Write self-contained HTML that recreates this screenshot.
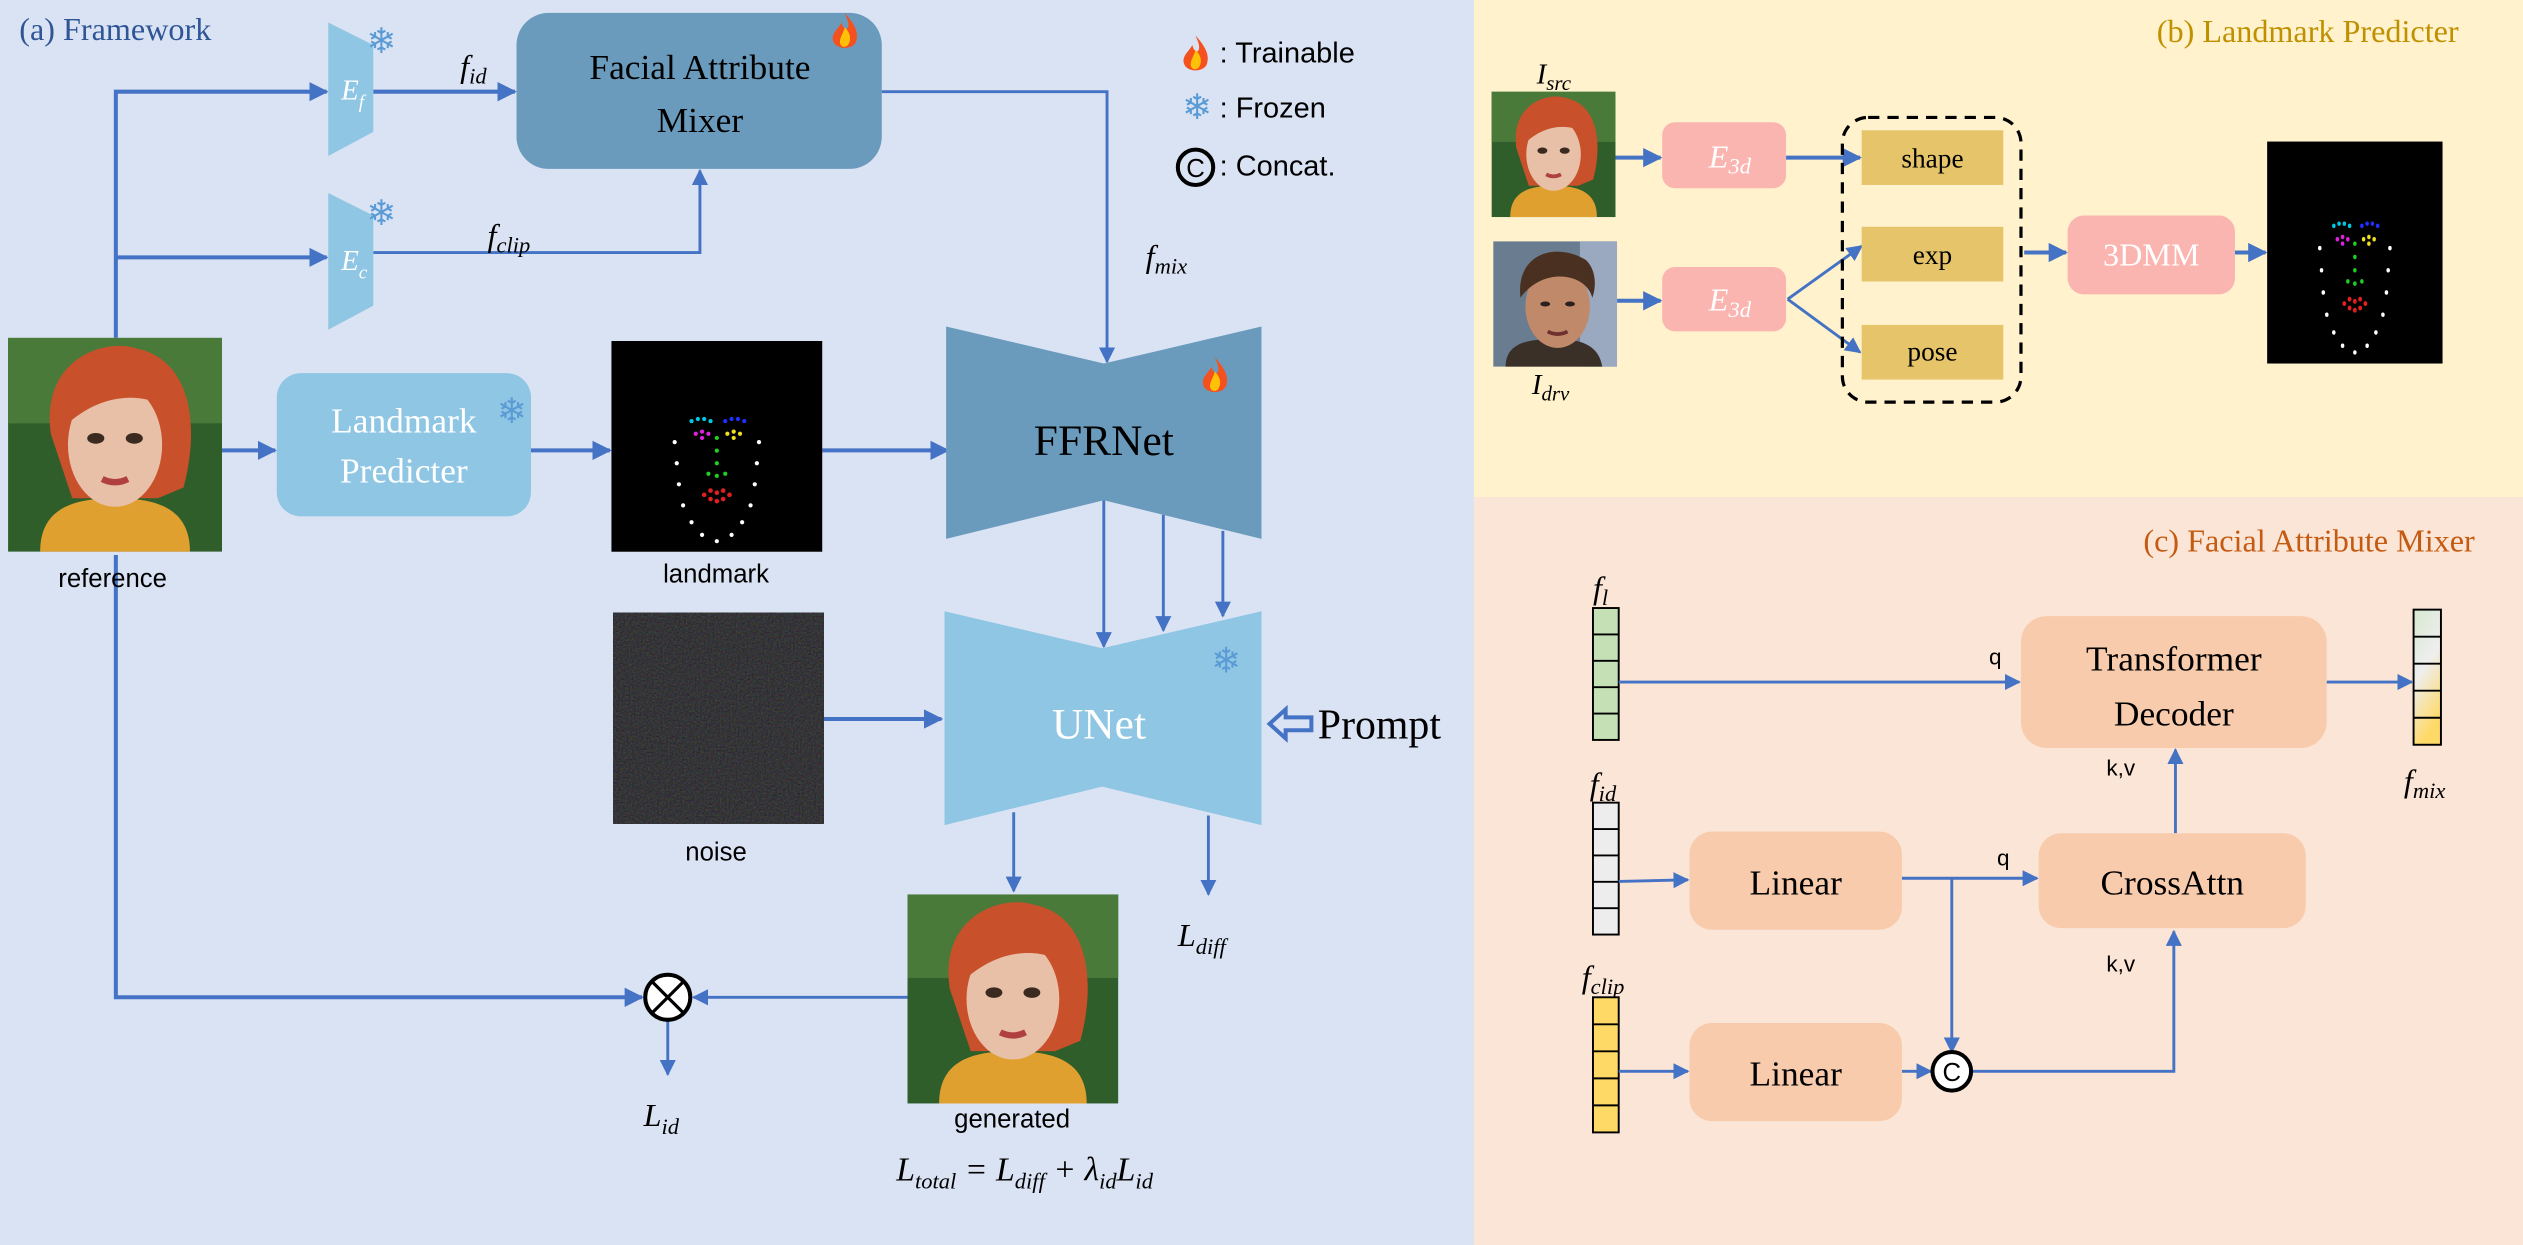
<!DOCTYPE html>
<html><head><meta charset="utf-8"><style>
html,body{margin:0;padding:0;background:#dae3f3;}
svg{display:block}
.sf{font-family:"Liberation Serif","DejaVu Serif",serif}
.ss{font-family:"Liberation Sans","DejaVu Sans",sans-serif}
.it{font-style:italic}
</style></head><body>
<svg width="2523" height="1245" viewBox="0 0 1568 774" preserveAspectRatio="none" xmlns="http://www.w3.org/2000/svg">
<defs>
<marker id="a" viewBox="0 0 10 10" refX="9" refY="5" markerWidth="10" markerHeight="10" markerUnits="userSpaceOnUse" orient="auto"><path d="M0,0L10,5L0,10z" fill="#4472c4"/></marker>
<marker id="b" viewBox="0 0 10 10" refX="9" refY="5" markerWidth="12" markerHeight="12" markerUnits="userSpaceOnUse" orient="auto"><path d="M0,0L10,5L0,10z" fill="#4472c4"/></marker>
<g id="flame"><path d="M0,-12 C6,-5 9,0 7,6 C5,11 -5,11 -7,6 C-9,1 -4,-2 -2,-6 C-1,-2 1,-1 2,-3 C3,-6 1,-9 0,-12z" fill="#f4511e"/><path d="M0,-3 C4,1 4,5 2,8 C0,10 -3,9 -3,6 C-3,3 -1,1 0,-3z" fill="#ffc107"/></g>
<g id="face">
<rect x="0" y="0" width="100" height="100" fill="#2f5e2a"/>
<rect x="0" y="0" width="100" height="40" fill="#4a7a3a"/>
<path d="M15,100 C15,80 30,75 50,75 C70,75 85,80 85,100z" fill="#e0a030"/>
<path d="M20,45 C15,10 45,0 60,5 C85,10 90,40 82,70 L70,75 L30,75z" fill="#c8502a"/>
<ellipse cx="50" cy="50" rx="22" ry="29" fill="#e8c0a8"/>
<path d="M28,40 C30,15 60,10 78,35 C65,25 45,25 28,40z" fill="#c8502a"/>
<ellipse cx="41" cy="47" rx="4" ry="2.5" fill="#3a2a20"/><ellipse cx="59" cy="47" rx="4" ry="2.5" fill="#3a2a20"/>
<path d="M44,66 Q50,69 56,66" stroke="#b04040" stroke-width="3" fill="none"/>
</g>
<g id="lm">
<g fill="#fff"><circle cx="30" cy="48" r="1"/><circle cx="31" cy="58" r="1"/><circle cx="32" cy="68" r="1"/><circle cx="34" cy="78" r="1"/><circle cx="38" cy="86" r="1"/><circle cx="43" cy="92" r="1"/><circle cx="50" cy="95" r="1"/><circle cx="57" cy="92" r="1"/><circle cx="62" cy="86" r="1"/><circle cx="66" cy="78" r="1"/><circle cx="68" cy="68" r="1"/><circle cx="69" cy="58" r="1"/><circle cx="70" cy="48" r="1"/></g>
<g fill="#00c8e0"><circle cx="38" cy="38" r="1"/><circle cx="41" cy="37" r="1"/><circle cx="44" cy="37" r="1"/><circle cx="47" cy="38" r="1"/></g>
<g fill="#2030ff"><circle cx="54" cy="38" r="1"/><circle cx="57" cy="37" r="1"/><circle cx="60" cy="37" r="1"/><circle cx="63" cy="38" r="1"/></g>
<g fill="#e020e0"><circle cx="40" cy="44" r="1"/><circle cx="43" cy="43" r="1"/><circle cx="46" cy="44" r="1"/><circle cx="43" cy="46" r="1"/></g>
<g fill="#f0e020"><circle cx="55" cy="44" r="1"/><circle cx="58" cy="43" r="1"/><circle cx="61" cy="44" r="1"/><circle cx="58" cy="46" r="1"/></g>
<g fill="#20d020"><circle cx="50" cy="46" r="1"/><circle cx="50" cy="52" r="1"/><circle cx="50" cy="58" r="1"/><circle cx="46" cy="63" r="1"/><circle cx="50" cy="64" r="1"/><circle cx="54" cy="63" r="1"/></g>
<g fill="#e02020"><circle cx="44" cy="73" r="1.1"/><circle cx="47" cy="71" r="1.1"/><circle cx="50" cy="72" r="1.1"/><circle cx="53" cy="71" r="1.1"/><circle cx="56" cy="73" r="1.1"/><circle cx="50" cy="76" r="1.1"/><circle cx="47" cy="75" r="1.1"/><circle cx="53" cy="75" r="1.1"/></g>
</g>
<filter id="nz" x="0" y="0" width="1" height="1" filterUnits="objectBoundingBox" color-interpolation-filters="sRGB"><feTurbulence type="fractalNoise" baseFrequency="0.9" numOctaves="2" seed="3"/><feColorMatrix values="0.25 0 0 0 0.08  0 0.25 0 0 0.08  0 0 0.25 0 0.09  0 0 0 0 1"/></filter>
</defs>

<rect x="0" y="0" width="916" height="774" fill="#dae3f3"/>
<rect x="916" y="0" width="652" height="309" fill="#fff2cc"/>
<rect x="916" y="309" width="652" height="465" fill="#fbe5d6"/>

<text x="12" y="25" class="sf" font-size="20" fill="#2f5597">(a) Framework</text>
<g stroke="#4472c4" stroke-width="2.5" fill="none">
<polyline points="72,210 72,57 203,57" marker-end="url(#b)"/>
<polyline points="72,160 203,160" marker-end="url(#b)"/>
<polyline points="232,57 320,57" marker-end="url(#b)"/>
<polyline points="138,280 171,280" marker-end="url(#b)"/>
<polyline points="330,280 379,280" marker-end="url(#b)"/>
<polyline points="511,280 589,280" marker-end="url(#b)"/>
<polyline points="512,447 585,447" marker-end="url(#b)"/>
<polyline points="72,345 72,620 399,620" marker-end="url(#b)"/>
</g>
<g stroke="#4472c4" stroke-width="1.8" fill="none">
<polyline points="232,157 435,157 435,106" marker-end="url(#a)"/>
<polyline points="548,57 688,57 688,225" marker-end="url(#a)"/>
<polyline points="686,311 686,402" marker-end="url(#a)"/>
<polyline points="723,320 723,392" marker-end="url(#a)"/>
<polyline points="760,330 760,383" marker-end="url(#a)"/>
<polyline points="630,505 630,554" marker-end="url(#a)"/>
<polyline points="751,507 751,556" marker-end="url(#a)"/>
<polyline points="564,620 431,620" marker-end="url(#a)"/>
<polyline points="415,635 415,668" marker-end="url(#a)"/>
</g>
<polygon points="204,14 232,28 232,82 204,97" fill="#8fc6e4"/>
<polygon points="204,120 232,134 232,190 204,205" fill="#8fc6e4"/>
<text x="212" y="62" class="sf it" font-size="18" fill="#fff">E<tspan font-size="12" dy="5">f</tspan></text>
<text x="212" y="168" class="sf it" font-size="18" fill="#fff">E<tspan font-size="12" dy="5">c</tspan></text>
<text x="237" y="33" font-size="22" fill="#5b9bd5" text-anchor="middle" class="ss">❄</text>
<text x="237" y="140" font-size="22" fill="#5b9bd5" text-anchor="middle" class="ss">❄</text>
<text x="286" y="48" class="sf it" font-size="20" fill="#000">f<tspan font-size="14" dy="4">id</tspan></text>
<text x="303" y="153" class="sf it" font-size="20" fill="#000">f<tspan font-size="14" dy="4">clip</tspan></text>
<text x="712" y="166" class="sf it" font-size="20" fill="#000">f<tspan font-size="14" dy="4">mix</tspan></text>
<rect x="321" y="8" width="227" height="97" rx="20" fill="#6a9bbd"/>
<text x="435" y="49" class="sf" font-size="22" text-anchor="middle" fill="#000">Facial Attribute</text>
<text x="435" y="82" class="sf" font-size="22" text-anchor="middle" fill="#000">Mixer</text>
<use href="#flame" x="525" y="20"/>
<use href="#flame" x="743" y="34"/>
<text x="758" y="39" class="ss" font-size="18" fill="#000">: Trainable</text>
<text x="744" y="74" font-size="22" fill="#5b9bd5" text-anchor="middle" class="ss">❄</text>
<text x="758" y="73" class="ss" font-size="18" fill="#000">: Frozen</text>
<circle cx="743" cy="104" r="11" fill="none" stroke="#000" stroke-width="2.5"/>
<text x="743" y="110" class="ss" font-size="16" text-anchor="middle" fill="#000">C</text>
<text x="758" y="109" class="ss" font-size="18" fill="#000">: Concat.</text>
<svg x="5" y="210" width="133" height="133" viewBox="0 0 100 100" preserveAspectRatio="none"><use href="#face"/></svg>
<text x="70" y="365" class="ss" font-size="16" text-anchor="middle" fill="#000">reference</text>
<rect x="172" y="232" width="158" height="89" rx="15" fill="#8fc6e4"/>
<text x="251" y="269" class="sf" font-size="22" text-anchor="middle" fill="#fff">Landmark</text>
<text x="251" y="300" class="sf" font-size="22" text-anchor="middle" fill="#fff">Predicter</text>
<text x="318" y="263" font-size="22" fill="#5b9bd5" text-anchor="middle" class="ss">❄</text>
<rect x="380" y="212" width="131" height="131" fill="#000"/>
<svg x="380" y="212" width="131" height="131" viewBox="0 0 100 100" preserveAspectRatio="none"><use href="#lm"/></svg>
<text x="445" y="362" class="ss" font-size="16" text-anchor="middle" fill="#000">landmark</text>
<polygon points="588,203 686,226 784,203 784,335 686,311 588,335" fill="#6a9bbd"/>
<text x="686" y="283" class="sf" font-size="27" text-anchor="middle" fill="#000">FFRNet</text>
<use href="#flame" x="755" y="234"/>
<rect x="381" y="381" width="131" height="131" fill="#2e2e33"/>
<rect x="381" y="381" width="131" height="131" filter="url(#nz)"/>
<text x="445" y="535" class="ss" font-size="16" text-anchor="middle" fill="#000">noise</text>
<polygon points="587,380 685,403 784,380 784,513 685,489 587,513" fill="#8fc6e4"/>
<text x="683" y="459" class="sf" font-size="27" text-anchor="middle" fill="#fff">UNet</text>
<text x="762" y="418" font-size="22" fill="#5b9bd5" text-anchor="middle" class="ss">❄</text>
<path d="M789,450 L799,441 L799,446 L815,446 L815,454 L799,454 L799,459z" fill="none" stroke="#4472c4" stroke-width="2.5"/>
<text x="819" y="459" class="sf" font-size="26" fill="#000">Prompt</text>
<svg x="564" y="556" width="131" height="130" viewBox="0 0 100 100" preserveAspectRatio="none"><use href="#face"/></svg>
<text x="629" y="701" class="ss" font-size="16" text-anchor="middle" fill="#000">generated</text>
<text x="732" y="588" class="sf it" font-size="20" fill="#000">L<tspan font-size="14" dy="5">diff</tspan></text>
<circle cx="415" cy="620" r="14" fill="#fff" stroke="#000" stroke-width="2.5"/>
<path d="M405,610 L425,630 M425,610 L405,630" stroke="#000" stroke-width="2"/>
<text x="400" y="700" class="sf it" font-size="20" fill="#000">L<tspan font-size="14" dy="5">id</tspan></text>
<text x="557" y="734" class="sf it" font-size="21" fill="#000">L<tspan font-size="14" dy="5">total</tspan><tspan dy="-5"> = L</tspan><tspan font-size="14" dy="5">diff</tspan><tspan dy="-5"> + λ</tspan><tspan font-size="14" dy="5">id</tspan><tspan dy="-5">L</tspan><tspan font-size="14" dy="5">id</tspan></text>

<text x="1528" y="26" class="sf" font-size="20" text-anchor="end" fill="#bf9000">(b) Landmark Predicter</text>
<text x="955" y="52" class="sf it" font-size="18" fill="#000">I<tspan font-size="13" dy="4">src</tspan></text>
<svg x="927" y="57" width="77" height="78" viewBox="0 0 100 100" preserveAspectRatio="none"><use href="#face"/></svg>
<svg x="928" y="150" width="77" height="78" viewBox="0 0 100 100" preserveAspectRatio="none">
<rect width="100" height="100" fill="#6a7d90"/><rect x="70" width="30" height="100" fill="#9aa8c0"/>
<path d="M10,100 C10,80 30,78 50,78 C70,78 85,82 88,100z" fill="#3a3028"/>
<ellipse cx="52" cy="52" rx="26" ry="33" fill="#c08a6a"/>
<path d="M22,45 C18,10 50,0 75,15 C85,25 82,40 80,45 C75,25 40,20 22,45z" fill="#4a3020"/>
<ellipse cx="42" cy="50" rx="4" ry="2" fill="#2a2020"/><ellipse cx="62" cy="50" rx="4" ry="2" fill="#2a2020"/>
<path d="M44,72 Q52,76 60,72" stroke="#703030" stroke-width="3" fill="none"/></svg>
<text x="952" y="245" class="sf it" font-size="18" fill="#000">I<tspan font-size="13" dy="4">drv</tspan></text>
<g stroke="#4472c4" stroke-width="2.5" fill="none">
<polyline points="1004,98 1032,98" marker-end="url(#b)"/>
<polyline points="1005,187 1032,187" marker-end="url(#b)"/>
<polyline points="1110,98 1156,98" marker-end="url(#b)"/>
<polyline points="1258,157 1284,157" marker-end="url(#b)"/>
<polyline points="1389,157 1408,157" marker-end="url(#b)"/>
</g>
<g stroke="#4472c4" stroke-width="1.8" fill="none">
<polyline points="1111,186 1157,153" marker-end="url(#a)"/>
<polyline points="1111,186 1156,219" marker-end="url(#a)"/>
</g>
<rect x="1033" y="76" width="77" height="41" rx="8" fill="#fbb5b1"/>
<rect x="1033" y="166" width="77" height="40" rx="8" fill="#fbb5b1"/>
<text x="1062" y="104" class="sf it" font-size="20" fill="#fff">E<tspan font-size="14" dy="4">3d</tspan></text>
<text x="1062" y="193" class="sf it" font-size="20" fill="#fff">E<tspan font-size="14" dy="4">3d</tspan></text>
<rect x="1145" y="73" width="111" height="177" rx="16" fill="none" stroke="#000" stroke-width="2" stroke-dasharray="7,5"/>
<rect x="1157" y="81" width="88" height="34" fill="#e6c46a"/>
<rect x="1157" y="141" width="88" height="34" fill="#e6c46a"/>
<rect x="1157" y="202" width="88" height="34" fill="#e6c46a"/>
<text x="1201" y="104" class="sf" font-size="17" text-anchor="middle" fill="#000">shape</text>
<text x="1201" y="164" class="sf" font-size="17" text-anchor="middle" fill="#000">exp</text>
<text x="1201" y="224" class="sf" font-size="17" text-anchor="middle" fill="#000">pose</text>
<rect x="1285" y="134" width="104" height="49" rx="10" fill="#fbb5b1"/>
<text x="1337" y="165" class="sf" font-size="20" text-anchor="middle" fill="#fff">3DMM</text>
<rect x="1409" y="88" width="109" height="138" fill="#000"/>
<svg x="1409" y="88" width="109" height="138" viewBox="0 0 100 100" preserveAspectRatio="none"><use href="#lm"/></svg>

<text x="1538" y="343" class="sf" font-size="20" text-anchor="end" fill="#c55a11">(c) Facial Attribute Mixer</text>
<text x="990" y="372" class="sf it" font-size="20" fill="#000">f<tspan font-size="14" dy="4">l</tspan></text>
<text x="988" y="494" class="sf it" font-size="20" fill="#000">f<tspan font-size="14" dy="4">id</tspan></text>
<text x="983" y="614" class="sf it" font-size="20" fill="#000">f<tspan font-size="14" dy="4">clip</tspan></text>
<text x="1494" y="492" class="sf it" font-size="20" fill="#000">f<tspan font-size="14" dy="4">mix</tspan></text>
<g stroke="#000" stroke-width="1.2">
<rect x="990" y="378" width="16" height="82" fill="#c5e0b4"/>
<line x1="990" y1="394.4" x2="1006" y2="394.4"/><line x1="990" y1="410.8" x2="1006" y2="410.8"/><line x1="990" y1="427.2" x2="1006" y2="427.2"/><line x1="990" y1="443.6" x2="1006" y2="443.6"/>
<rect x="990" y="499" width="16" height="82" fill="#ededed"/>
<line x1="990" y1="515.4" x2="1006" y2="515.4"/><line x1="990" y1="531.8" x2="1006" y2="531.8"/><line x1="990" y1="548.2" x2="1006" y2="548.2"/><line x1="990" y1="564.6" x2="1006" y2="564.6"/>
<rect x="990" y="620" width="16" height="84" fill="#ffd966"/>
<line x1="990" y1="636.8" x2="1006" y2="636.8"/><line x1="990" y1="653.6" x2="1006" y2="653.6"/><line x1="990" y1="670.4" x2="1006" y2="670.4"/><line x1="990" y1="687.2" x2="1006" y2="687.2"/>
</g>
<defs><linearGradient id="gm" x1="0" y1="0" x2="0.3" y2="1"><stop offset="0" stop-color="#d7e8d0"/><stop offset="0.5" stop-color="#eeeeee"/><stop offset="1" stop-color="#ffd966"/></linearGradient></defs>
<g stroke="#000" stroke-width="1.2">
<rect x="1500" y="379" width="17" height="84" fill="url(#gm)"/>
<line x1="1500" y1="395.8" x2="1517" y2="395.8"/><line x1="1500" y1="412.6" x2="1517" y2="412.6"/><line x1="1500" y1="429.4" x2="1517" y2="429.4"/><line x1="1500" y1="446.2" x2="1517" y2="446.2"/>
</g>
<g stroke="#4472c4" stroke-width="1.8" fill="none">
<polyline points="1006,424 1255,424" marker-end="url(#a)"/>
<polyline points="1446,424 1499,424" marker-end="url(#a)"/>
<polyline points="1006,548 1049,547" marker-end="url(#a)"/>
<polyline points="1182,546 1266,546" marker-end="url(#a)"/>
<polyline points="1213,546 1213,654" marker-end="url(#a)"/>
<polyline points="1006,666 1049,666" marker-end="url(#a)"/>
<polyline points="1182,666 1200,666" marker-end="url(#a)"/>
<polyline points="1226,666 1351,666 1351,579" marker-end="url(#a)"/>
<polyline points="1352,518 1352,466" marker-end="url(#a)"/>
</g>
<rect x="1256" y="383" width="190" height="82" rx="16" fill="#f8cbad"/>
<text x="1351" y="417" class="sf" font-size="22" text-anchor="middle" fill="#000">Transformer</text>
<text x="1351" y="451" class="sf" font-size="22" text-anchor="middle" fill="#000">Decoder</text>
<rect x="1050" y="517" width="132" height="61" rx="14" fill="#f8cbad"/>
<text x="1116" y="556" class="sf" font-size="22" text-anchor="middle" fill="#000">Linear</text>
<rect x="1267" y="518" width="166" height="59" rx="14" fill="#f8cbad"/>
<text x="1350" y="556" class="sf" font-size="22" text-anchor="middle" fill="#000">CrossAttn</text>
<rect x="1050" y="636" width="132" height="61" rx="14" fill="#f8cbad"/>
<text x="1116" y="675" class="sf" font-size="22" text-anchor="middle" fill="#000">Linear</text>
<circle cx="1213" cy="666" r="12" fill="#fff" stroke="#000" stroke-width="2.5"/>
<text x="1213" y="672" class="ss" font-size="16" text-anchor="middle" fill="#000">C</text>
<text x="1240" y="413" class="ss" font-size="14" text-anchor="middle" fill="#000">q</text>
<text x="1245" y="538" class="ss" font-size="14" text-anchor="middle" fill="#000">q</text>
<text x="1318" y="482" class="ss" font-size="14" text-anchor="middle" fill="#000">k,v</text>
<text x="1318" y="604" class="ss" font-size="14" text-anchor="middle" fill="#000">k,v</text>
</svg>
</body></html>
